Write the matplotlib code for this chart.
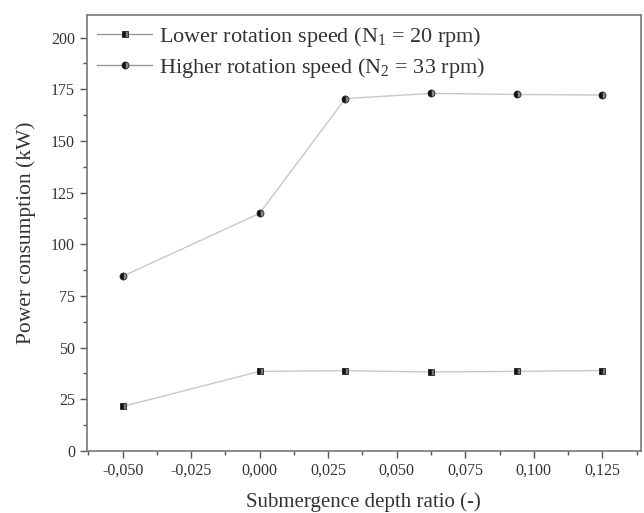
import matplotlib
matplotlib.use("Agg")
import matplotlib.pyplot as plt
from matplotlib.ticker import MultipleLocator, FuncFormatter

x_ratio = [-0.050, 0.000, 0.03125, 0.0625, 0.09375, 0.125]
power_low = [21.5, 38.5, 38.8, 38.2, 38.5, 38.9]
power_high = [84.5, 115.0, 170.5, 173.0, 172.5, 172.2]
labels = ["Lower rotation speed (N$_1$ = 20 rpm)",
          "Higher rotation speed (N$_2$ = 33 rpm)"]

plt.rcParams['font.family'] = ['Liberation Serif', 'DejaVu Serif']
plt.rcParams['mathtext.fontset'] = 'custom'
plt.rcParams['mathtext.rm'] = 'Liberation Serif'
plt.rcParams['mathtext.it'] = 'Liberation Serif:italic'

fig = plt.figure(figsize=(6.44, 5.13), dpi=100)
ax = fig.add_axes([0.135, 0.121, 0.860, 0.850])

line_c = '#c8c8c8'
ax.plot(x_ratio, power_low, color=line_c, lw=1.0, marker='s', ms=5,
        fillstyle='left', markerfacecolor='#111111', markerfacecoloralt='#777777',
        markeredgecolor='#222222', markeredgewidth=0.6, label=labels[0])
ax.plot(x_ratio, power_high, color=line_c, lw=1.0, marker='o', ms=5,
        fillstyle='left', markerfacecolor='#111111', markerfacecoloralt='#888888',
        markeredgecolor='#222222', markeredgewidth=0.6, label=labels[1])

ax.set_xlim(-0.063, 0.139)
ax.set_ylim(0, 211)
ax.xaxis.set_major_locator(MultipleLocator(0.025))
ax.xaxis.set_minor_locator(MultipleLocator(0.0125))
ax.yaxis.set_major_locator(MultipleLocator(25))
ax.yaxis.set_minor_locator(MultipleLocator(12.5))
ax.xaxis.set_major_formatter(FuncFormatter(lambda v, p: f"{v:.3f}".replace('.', ',').replace('-0,000', '0,000')))

for s in ax.spines.values():
    s.set_color('#777777')
    s.set_linewidth(1.2)
ax.tick_params(which='both', direction='out', colors='#555555', labelcolor='#333333',
               labelsize=11.5)
ax.tick_params(which='major', length=5, width=1)
ax.tick_params(which='minor', length=3, width=1)

ax.set_xlabel("Submergence depth ratio (-)", fontsize=15, color='#333333', labelpad=10)
ax.set_ylabel("Power consumption (kW)", fontsize=15.5, color='#333333', labelpad=11)

leg = ax.legend(loc='upper left', frameon=False, fontsize=16, handlelength=2.5,
                borderaxespad=0.15, borderpad=0.3, handletextpad=0.3, labelspacing=0.3,
                bbox_to_anchor=(0.0, 1.0))
for t in leg.get_texts():
    t.set_color('#333333')
for l in leg.get_lines():
    l.set_color('#999999')

fig.savefig("out.png", dpi=100)
